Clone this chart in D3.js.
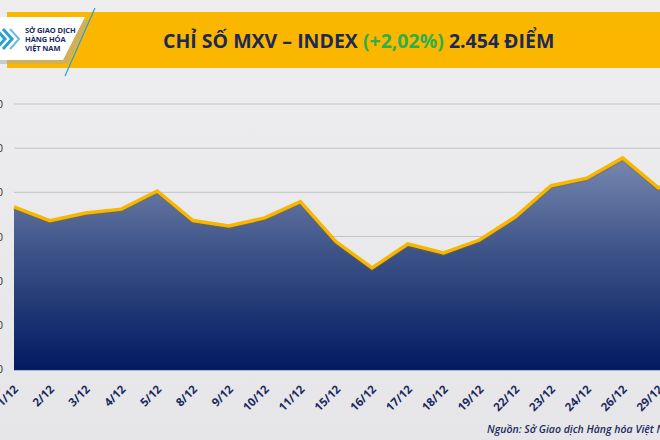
<!DOCTYPE html>
<meta charset="utf-8">
<head>
    <style>
        body { margin: 0; background: #e9e9eb; }
        .title { font-family: 'Open Sans', sans-serif; font-size: 19.5px; font-weight: 700; fill: #1b2a55; }
        .x-label { font-family: 'Open Sans', sans-serif; font-size: 11.5px; font-weight: 700; fill: #1b2a60; }
        .y-label { font-family: 'Open Sans', sans-serif; font-size: 11px; fill: #333; }
        .source { font-family: 'Open Sans', sans-serif; font-size: 10.5px; font-style: italic; font-weight: 600; fill: #1b2a60; }
        .logo-text { font-family: 'Open Sans', sans-serif; font-size: 7.5px; font-weight: 700; fill: #1b2a60; letter-spacing: -0.1px; }
    </style>
</head>

<script src="https://d3js.org/d3.v7.min.js"></script>

<div id="chart"></div>

<script>

    // data (30/12 is beyond the right edge, value from the title)
    const dates = ["1/12", "2/12", "3/12", "4/12", "5/12", "8/12", "9/12", "10/12", "11/12", "15/12",
        "16/12", "17/12", "18/12", "19/12", "22/12", "23/12", "24/12", "26/12", "29/12", "30/12"];
    const values = [2367, 2336, 2353, 2362, 2403, 2336, 2324, 2342, 2379, 2288,
        2229, 2283, 2263, 2292, 2344, 2415, 2432, 2478, 2410, 2454];
    const yTicks = [2000, 2100, 2200, 2300, 2400, 2500, 2600];

    const width = 660, height = 440;
    const plot = { left: 14, top: 104, bottom: 369 };
    const step = 35.8;

    const svg = d3.select("#chart")
        .append("svg")
        .attr("width", width)
        .attr("height", height);

    const defs = svg.append("defs");
    const grad = defs.append("linearGradient")
        .attr("id", "areaFill")
        .attr("gradientUnits", "userSpaceOnUse")
        .attr("x1", 0).attr("x2", 0)
        .attr("y1", 150).attr("y2", plot.bottom);
    grad.append("stop").attr("offset", "0%").attr("stop-color", "#7d8cb3");
    grad.append("stop").attr("offset", "45%").attr("stop-color", "#3f5589");
    grad.append("stop").attr("offset", "100%").attr("stop-color", "#021a62");

    const bg = defs.append("linearGradient")
        .attr("id", "bgFill")
        .attr("x1", 0).attr("x2", 0).attr("y1", 0).attr("y2", 1);
    bg.append("stop").attr("offset", "0%").attr("stop-color", "#eeeef0");
    bg.append("stop").attr("offset", "100%").attr("stop-color", "#e6e6e8");

    svg.append("rect").attr("width", width).attr("height", height).attr("fill", "url(#bgFill)");

    // scales
    const x = d3.scalePoint()
        .domain(dates)
        .range([plot.left, plot.left + step * (dates.length - 1)]);

    const y = d3.scaleLinear()
        .domain([2000, 2600])
        .range([plot.bottom, plot.top]);

    // grid lines
    svg.append("g")
        .selectAll("line")
        .data(yTicks.slice(1))
        .enter()
        .append("line")
        .attr("x1", plot.left)
        .attr("x2", width)
        .attr("y1", d => y(d))
        .attr("y2", d => y(d))
        .attr("stroke", "#c4c4c8")
        .attr("stroke-width", 1);

    // y labels, mostly cut off by the left edge like in the source image
    svg.append("g")
        .selectAll("text")
        .data(yTicks)
        .enter()
        .append("text")
        .attr("class", "y-label")
        .attr("x", 3)
        .attr("y", d => y(d) + 4)
        .attr("text-anchor", "end")
        .text(d => d3.format(",")(d).replace(",", "."));

    // area + line
    const area = d3.area()
        .x((d, i) => x(dates[i]))
        .y0(plot.bottom)
        .y1(d => y(d));

    const line = d3.line()
        .x((d, i) => x(dates[i]))
        .y(d => y(d));

    svg.append("path")
        .datum(values)
        .attr("d", area)
        .attr("fill", "url(#areaFill)");

    svg.append("path")
        .datum(values)
        .attr("d", line)
        .attr("fill", "none")
        .attr("stroke", "#8a6a10")
        .attr("stroke-opacity", 0.35)
        .attr("stroke-width", 4)
        .attr("transform", "translate(0,1.2)");

    svg.append("path")
        .datum(values)
        .attr("d", line)
        .attr("fill", "none")
        .attr("stroke", "#f7b700")
        .attr("stroke-width", 3.5)
        .attr("stroke-linejoin", "miter");

    // baseline
    svg.append("line")
        .attr("x1", plot.left).attr("x2", width)
        .attr("y1", plot.bottom + 0.5).attr("y2", plot.bottom + 0.5)
        .attr("stroke", "#0a1f5e").attr("stroke-width", 1.5);

    // x labels
    svg.append("g")
        .selectAll("text")
        .data(dates)
        .enter()
        .append("text")
        .attr("class", "x-label")
        .attr("text-anchor", "end")
        .attr("transform", d => "translate(" + (x(d) + 5) + "," + 390 + ") rotate(-45)")
        .text(d => d);

    svg.append("text")
        .attr("class", "source")
        .attr("x", 487)
        .attr("y", 433)
        .text("Nguồn: Sở Giao dịch Hàng hóa Việt Nam");

    // header band
    svg.append("rect")
        .attr("x", 7).attr("y", 12)
        .attr("width", width - 7).attr("height", 56)
        .attr("fill", "#fbb700");

    // logo box with its shadow
    svg.append("path")
        .attr("d", "M0,20 L90,20 L68,64 L0,64 Z")
        .attr("fill", "#a9a9ad")
        .attr("opacity", 0.5);
    svg.append("path")
        .attr("d", "M0,17 L85,17 L63,60 L0,60 Z")
        .attr("fill", "#ffffff");
    svg.append("line")
        .attr("x1", 95).attr("y1", 8).attr("x2", 65).attr("y2", 76)
        .attr("stroke", "#2a9fd8").attr("stroke-width", 1.2);

    const chev = svg.append("g").attr("fill", "none").attr("stroke", "#2a9fd8").attr("stroke-width", 3);
    chev.append("path").attr("d", "M-4,29 L5,39 L-4,49");
    chev.append("path").attr("d", "M3,29 L12,39 L3,49");
    chev.append("path").attr("d", "M10,29 L19,39 L10,49").attr("stroke-width", 2).attr("opacity", 0.7);

    const logoLines = ["SỞ GIAO DỊCH", "HÀNG HÓA", "VIỆT NAM"];
    svg.append("g")
        .selectAll("text")
        .data(logoLines)
        .enter()
        .append("text")
        .attr("class", "logo-text")
        .attr("x", 25)
        .attr("y", (d, i) => 33 + i * 9)
        .text(d => d);

    // title
    const title = svg.append("text")
        .attr("class", "title")
        .attr("x", 163)
        .attr("y", 48);
    title.append("tspan").text("CHỈ SỐ MXV – INDEX ");
    title.append("tspan").attr("fill", "#2fae4a").text("(+2,02%)");
    title.append("tspan").text(" 2.454 ĐIỂM");

</script>
